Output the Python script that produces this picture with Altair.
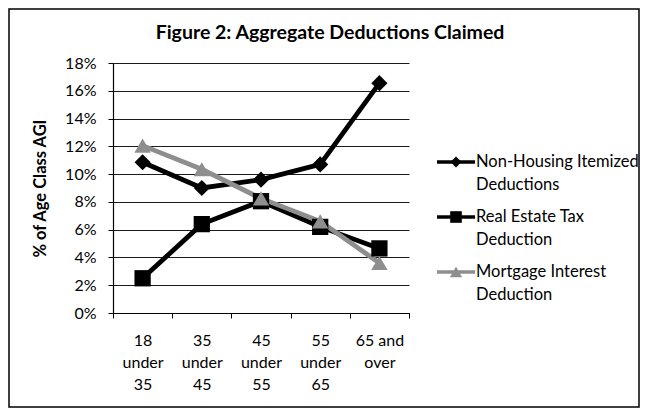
import altair as alt
import pandas as pd

categories = ["18 under 35", "35 under 45", "45 under 55", "55 under 65", "65 and over"]
series = ["Non-Housing Itemized Deductions", "Real Estate Tax Deduction", "Mortgage Interest Deduction"]
non_housing = [10.85, 9.0, 9.6, 10.7, 16.55]
real_estate = [2.5, 6.4, 8.05, 6.2, 4.65]
mortgage = [12.05, 10.35, 8.25, 6.6, 3.6]
y_ticks = [0, 2, 4, 6, 8, 10, 12, 14, 16, 18]
legend_lines = [
    ["Non-Housing Itemized", "Deductions"],
    ["Real Estate Tax", "Deduction"],
    ["Mortgage Interest", "Deduction"],
]

rows = []
for s, vals in zip(series, [non_housing, real_estate, mortgage]):
    for c, v in zip(categories, vals):
        rows.append({"age": c, "series": s, "pct": v})
df = pd.DataFrame(rows)

leg_df = pd.DataFrame({
    "series": series,
    "label": ["\n".join(l) for l in legend_lines],
})

line_colors = ["#000000", "#000000", "#8e8e8e"]
point_colors = ["#000000", "#000000", "#6f6f6f"]
shapes = ["diamond", "square", "triangle-up"]
sizes = [260, 270, 240]
leg_sizes = [120, 150, 150]

W, H = 296, 250
FONT = "Lato"

x_enc = alt.X(
    "age:N", sort=categories,
    scale=alt.Scale(type="band", paddingInner=0, paddingOuter=0),
    axis=alt.Axis(
        title=None, labelAngle=0, tickBand="extent",
        labelExpr="datum.label == '65 and over' ? ['65 and', 'over'] : split(datum.label, ' ')",
        labelFont=FONT, labelFontSize=16, labelColor="black", labelLineHeight=22,
        labelBaseline="top", labelPadding=14, tickSize=5, tickColor="black",
        domainColor="black", domainWidth=1.2,
    ),
)
y_enc = alt.Y(
    "pct:Q",
    scale=alt.Scale(domain=[0, 18], nice=False),
    axis=alt.Axis(
        values=y_ticks, labelExpr="datum.value + '%'",
        title="% of Age Class AGI", titleFont=FONT, titleFontSize=16.5, titleFontWeight="bold",
        titleColor="black", titleAngle=-90, titleX=-73, titleY=H / 2, titleAlign="center",
        titleBaseline="middle",
        labelFont=FONT, labelFontSize=16, labelColor="black", labelPadding=12,
        tickSize=5, tickColor="black", domainColor="black", domainWidth=1.2,
        grid=True, gridColor="#1a1a1a", gridWidth=1,
    ),
)

color_scale = alt.Scale(domain=series, range=line_colors)

border = alt.Chart(alt.Data(values=[{"a": 1}])).mark_rect(
    fillOpacity=0, stroke="black", strokeWidth=1.5
).encode(
    x=alt.value(-104), x2=alt.value(W + 230), y=alt.value(-54), y2=alt.value(H + 94)
)

lines = alt.Chart(df).mark_line(strokeWidth=4.8).encode(
    x=x_enc, y=y_enc,
    color=alt.Color("series:N", scale=color_scale, legend=None),
    detail="series:N",
)

points = alt.Chart(df).mark_point(filled=True, opacity=1).encode(
    x=x_enc, y=y_enc,
    color=alt.Color("series:N", scale=alt.Scale(domain=series, range=point_colors), legend=None),
    shape=alt.Shape("series:N", scale=alt.Scale(domain=series, range=shapes), legend=None),
    size=alt.Size("series:N", scale=alt.Scale(domain=series, range=sizes), legend=None),
)

main = alt.layer(lines, points)

# legend built from the series list
leg_y = alt.Y("series:N", sort=series,
              scale=alt.Scale(type="point", domain=series, range=[99, 209], padding=0),
              axis=None)

leg_rule = alt.Chart(leg_df).mark_rule(strokeWidth=3.5).encode(
    x=alt.value(324), x2=alt.value(362), y=leg_y,
    color=alt.Color("series:N", scale=color_scale, legend=None),
)
leg_pts = alt.Chart(leg_df).mark_point(filled=True, opacity=1).encode(
    x=alt.value(343), y=leg_y,
    color=alt.Color("series:N", scale=alt.Scale(domain=series, range=point_colors), legend=None),
    shape=alt.Shape("series:N", scale=alt.Scale(domain=series, range=shapes), legend=None),
    size=alt.Size("series:N", scale=alt.Scale(domain=series, range=leg_sizes), legend=None),
)
leg_text = alt.Chart(leg_df).mark_text(
    align="left", baseline="middle", lineBreak="\n", lineHeight=23,
    font=FONT, fontSize=16.5, color="black", dy=0,
).encode(
    x=alt.value(363), y=leg_y, text="label:N",
)
legend = alt.layer(leg_rule, leg_pts, leg_text)

chart = alt.layer(border, main, legend).resolve_scale(
    y="independent", size="independent"
).properties(
    width=W, height=H,
    autosize=alt.AutoSizeParams(type="none"),
    padding={"left": 105, "top": 55, "right": 231, "bottom": 95},
    title=alt.TitleParams(
        "Figure 2: Aggregate Deductions Claimed", font=FONT, fontSize=19.5,
        fontWeight="bold", color="black", anchor="middle", dx=69, offset=0, dy=35,
        frame="group",
    ),
    background="white",
).configure_view(stroke=None)

chart.save("out.html", embed_options={"renderer": "svg", "actions": False})
